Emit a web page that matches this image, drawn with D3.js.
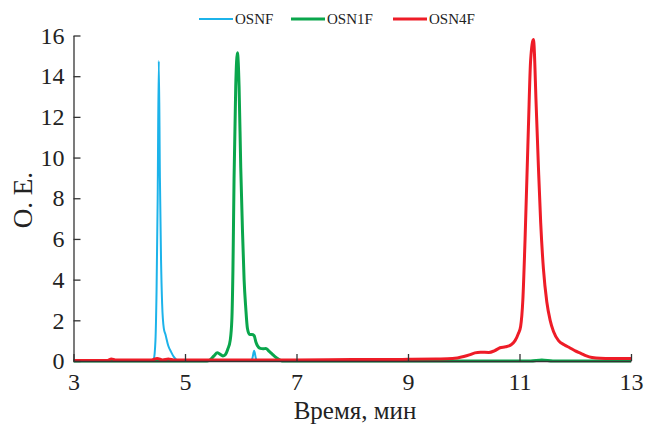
<!DOCTYPE html>
<html><head><meta charset="utf-8">
<script src="https://cdn.jsdelivr.net/npm/d3@7"></script>
<style>
html,body{margin:0;padding:0;background:#fff;}
svg{display:block;}
</style>
</head><body>
<svg id="chart" width="645" height="426"></svg>
<script>
// ---- data ----
const seriesNames = ["OSNF", "OSN1F", "OSN4F"];
const seriesColors = ["#1cb3ea", "#0aa64c", "#ee1c27"];

const osnfT = [3.0, 4.40, 4.44, 4.47, 4.49, 4.51, 4.53, 4.55, 4.57, 4.59, 4.62, 4.65, 4.70, 4.75, 4.80, 4.86, 4.90, 6.18, 6.21, 6.24, 6.27, 6.30, 13.0];
const osnfV = [0.0, 0.0, 0.1, 1.0, 3.5, 8.0, 14.75, 9.0, 5.0, 2.8, 1.6, 1.3, 0.75, 0.45, 0.2, 0.03, 0.0, 0.0, 0.15, 0.5, 0.15, 0.0, 0.0];

const osn1fT = [3.0, 5.40, 5.46, 5.52, 5.58, 5.62, 5.68, 5.72, 5.77, 5.81, 5.84, 5.86, 5.88, 5.91, 5.94, 5.97, 6.00, 6.03, 6.06, 6.09, 6.12, 6.16, 6.20, 6.24, 6.27, 6.30, 6.35, 6.40, 6.45, 6.50, 6.56, 6.62, 6.68, 6.74, 11.2, 11.4, 11.6, 13.0];
const osn1fV = [0.0, 0.0, 0.08, 0.25, 0.4, 0.35, 0.25, 0.3, 0.6, 1.0, 2.0, 4.5, 9.0, 13.5, 15.15, 13.5, 9.5, 6.5, 4.0, 2.6, 1.6, 1.3, 1.3, 1.25, 0.95, 0.75, 0.62, 0.6, 0.62, 0.5, 0.35, 0.2, 0.08, 0.0, 0.0, 0.05, 0.0, 0.0];

const osn4fT = [3.0, 3.6, 3.68, 3.75, 4.4, 4.5, 4.6, 4.7, 4.8, 5.5, 7.0, 8.0, 9.0, 9.5, 9.8, 10.0, 10.1, 10.2, 10.3, 10.45, 10.55, 10.65, 10.75, 10.85, 10.92, 10.98, 11.02, 11.06, 11.10, 11.16, 11.20, 11.25, 11.30, 11.34, 11.38, 11.43, 11.49, 11.55, 11.61, 11.70, 11.80, 11.90, 12.0, 12.1, 12.2, 12.3, 12.45, 13.0];
const osn4fV = [0.02, 0.02, 0.1, 0.05, 0.05, 0.12, 0.05, 0.1, 0.05, 0.05, 0.05, 0.07, 0.08, 0.1, 0.12, 0.22, 0.3, 0.4, 0.43, 0.42, 0.5, 0.65, 0.7, 0.8, 1.0, 1.35, 1.7, 3.0, 6.0, 11.5, 14.8, 15.8, 12.5, 9.5, 6.8, 4.5, 2.9, 2.0, 1.45, 1.0, 0.8, 0.65, 0.5, 0.38, 0.25, 0.17, 0.13, 0.12];

const xTicks = [3, 5, 7, 9, 11, 13];
const yTicks = [0, 2, 4, 6, 8, 10, 12, 14, 16];
const xTitle = "Время, мин";
const yTitle = "О. Е.";

// ---- chart ----
const series = [
  {name: seriesNames[0], color: seriesColors[0], width: 2.0, pts: osnfT.map((t, i) => [t, osnfV[i]])},
  {name: seriesNames[1], color: seriesColors[1], width: 3.0, pts: osn1fT.map((t, i) => [t, osn1fV[i]])},
  {name: seriesNames[2], color: seriesColors[2], width: 3.0, pts: osn4fT.map((t, i) => [t, osn4fV[i]])}
];

const svg = d3.select("#chart");
const font = "Times New Roman";
const x = d3.scaleLinear().domain([3, 13]).range([73.5, 631]);
const y = d3.scaleLinear().domain([0, 16]).range([361, 35.5]);
const axisColor = "#333";

// lines
const line = d3.line().x(d => x(d[0])).y(d => y(d[1])).curve(d3.curveMonotoneX);
series.forEach(s => {
  svg.append("path").datum(s.pts)
    .attr("fill", "none").attr("stroke", s.color)
    .attr("stroke-width", s.width).attr("stroke-linejoin", "round")
    .attr("d", line);
});

// axes
const yAxis = svg.append("g").attr("transform", `translate(${x(3)},0)`)
  .call(d3.axisLeft(y).tickValues(yTicks).tickSizeInner(-7).tickSizeOuter(0).tickPadding(9));
const xAxis = svg.append("g").attr("transform", `translate(0,${y(0)})`)
  .call(d3.axisBottom(x).tickValues(xTicks).tickSizeInner(-7).tickSizeOuter(0).tickPadding(12));
[xAxis, yAxis].forEach(g => {
  g.attr("font-family", null).attr("font-size", null);
  g.select(".domain").attr("stroke", axisColor).attr("stroke-width", 1.3);
  g.selectAll(".tick line").attr("stroke", axisColor).attr("stroke-width", 1.3);
  g.selectAll(".tick text").attr("fill", "#222").attr("font-family", font).attr("font-size", 24);
});

// titles
svg.append("text").attr("x", 355).attr("y", 419).attr("text-anchor", "middle")
  .attr("fill", "#222").attr("font-family", font).attr("font-size", 25).text(xTitle);
svg.append("text").attr("transform", "translate(32,200) rotate(-90)").attr("text-anchor", "middle")
  .attr("fill", "#222").attr("font-family", font).attr("font-size", 27).text(yTitle);

// legend
const legX = [199, 291, 393];
series.forEach((s, i) => {
  const g = svg.append("g").attr("transform", `translate(${legX[i]},19)`);
  g.append("line").attr("x1", 0).attr("x2", 34).attr("y1", 0).attr("y2", 0)
    .attr("stroke", s.color).attr("stroke-width", s.width);
  g.append("text").attr("x", 36).attr("y", 5).attr("fill", "#222")
    .attr("font-family", font).attr("font-size", 15).text(s.name);
});
</script>
</body></html>
